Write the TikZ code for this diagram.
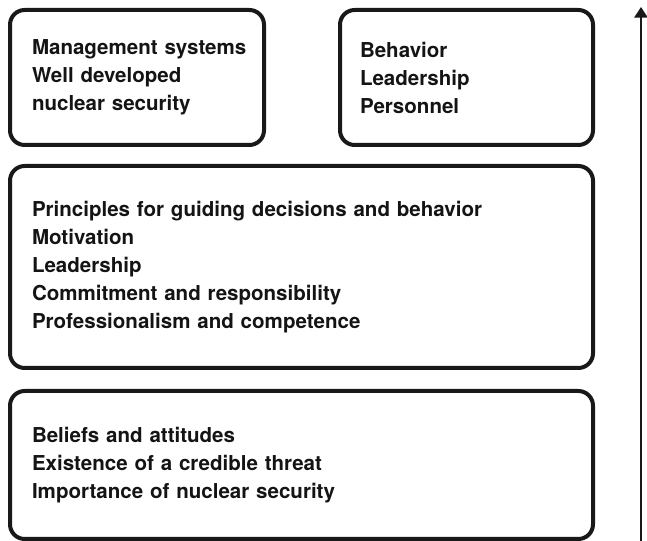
\documentclass[tikz,border=0pt]{standalone}
\usepackage{fontspec}
\setmainfont{TeX Gyre Heros}
\usetikzlibrary{arrows.meta}
\newcommand\panelfont{\hyphenpenalty=10000\relax\fontsize{15.4}{21}\selectfont\bfseries}

\begin{document}
\begin{tikzpicture}[x=0.75pt,y=-0.75pt,
	 panel/.style={draw=black!90, line width=3pt, rounded corners=11pt, inner sep=0pt,
		 font=\panelfont, align=left, text=black!92}]
		 \useasboundingbox (0,0) rectangle (647,541);
		 \node [panel, minimum width=190.5pt, minimum height=101.25pt, text width=157.5pt] (mgmt) at (137,77.5) {\mbox{Management systems}\\Well developed\\nuclear security};
		 \node [panel, minimum width=189.75pt, minimum height=101.25pt, text width=159.75pt] (behav) at (466.5,77.5) {Behavior\\Leadership\\Personnel};
		 \node [panel, minimum width=437.25pt, minimum height=151.5pt, text width=404.25pt] (princ) at (301.5,267) {Principles for guiding decisions and behavior\\Motivation\\Leadership\\Commitment and responsibility\\Professionalism and competence};
		 \node [panel, minimum width=437.25pt, minimum height=111pt, text width=404.25pt] (belief) at (301.5,465) {Beliefs and attitudes\\Existence of a credible threat\\Importance of nuclear security};
		 \coordinate (base) at (641,541);
		 \coordinate (tip) at (641,7);
		 \draw [black!90, line width=1.5pt, -{Triangle[width=10pt,length=8pt]}] (base) -- (tip);
\end{tikzpicture}
\end{document}
